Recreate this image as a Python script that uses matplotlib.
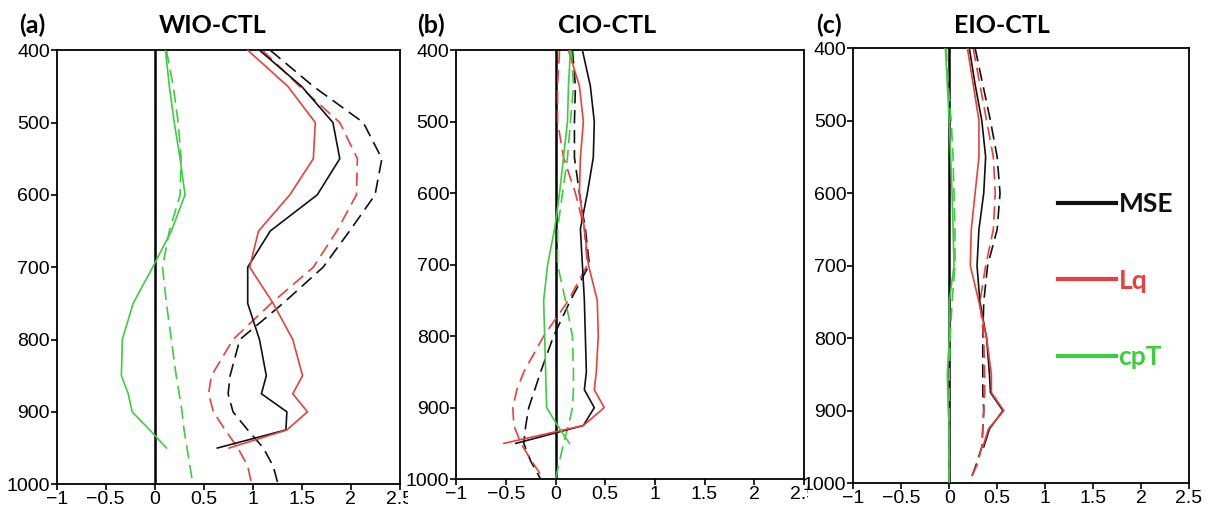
import numpy as np
import matplotlib
matplotlib.use('Agg')
import matplotlib.pyplot as plt
from matplotlib.lines import Line2D
from matplotlib.transforms import Bbox

nan = np.nan
# pressure levels (hPa)
lev = [400, 450, 500, 550, 600, 650, 700, 750, 800, 850, 875, 900, 925, 950, 975, 1000]

# WIO-CTL
mse_a = [1.07, 1.50, 1.82, 1.89, 1.66, 1.18, 0.95, 0.95, 1.07, 1.14, 1.09, 1.35, 1.34, 0.64, nan, nan]
lq_a = [0.95, 1.36, 1.64, 1.62, 1.38, 1.06, 0.97, 1.21, 1.41, 1.51, 1.41, 1.56, 1.35, 0.76, nan, nan]
cpt_a = [0.11, 0.15, 0.20, 0.26, 0.31, 0.17, -0.02, -0.22, -0.33, -0.34, -0.27, -0.23, -0.05, 0.12, nan, nan]
mse_a_d = [1.18, 1.62, 2.13, 2.32, 2.25, 1.99, 1.72, 1.31, 0.87, 0.77, 0.75, 0.80, 0.95, 1.11, 1.21, 1.26]
lq_a_d = [1.10, 1.48, 1.89, 2.07, 2.06, 1.86, 1.62, 1.19, 0.80, 0.58, 0.55, 0.60, 0.72, 0.85, 0.95, 0.99]
cpt_a_d = [0.12, 0.19, 0.24, 0.27, 0.26, 0.15, 0.08, 0.12, 0.17, 0.22, 0.25, 0.28, 0.30, 0.33, 0.36, 0.39]

# CIO-CTL
mse_b = [0.27, 0.35, 0.39, 0.38, 0.32, 0.25, 0.27, 0.29, 0.30, 0.31, 0.29, 0.39, 0.28, -0.40, nan, nan]
lq_b = [0.13, 0.24, 0.28, 0.25, 0.24, 0.29, 0.33, 0.42, 0.43, 0.41, 0.39, 0.49, 0.28, -0.52, nan, nan]
cpt_b = [0.15, 0.13, 0.12, 0.08, 0.04, -0.01, -0.08, -0.12, -0.11, -0.10, -0.095, -0.09, 0.02, 0.14, nan, nan]
mse_b_d = [0.17, 0.20, 0.19, 0.19, 0.24, 0.30, 0.34, 0.15, -0.02, -0.15, -0.21, -0.27, -0.30, -0.32, -0.25, -0.15]
lq_b_d = [0.04, 0.02, 0.02, 0.08, 0.20, 0.29, 0.32, 0.13, -0.12, -0.32, -0.39, -0.43, -0.42, -0.35, -0.24, -0.12]
cpt_b_d = [0.16, 0.18, 0.15, 0.12, 0.07, 0.02, 0.02, 0.10, 0.17, 0.18, 0.18, 0.17, 0.13, 0.08, 0.04, 0.0]

# EIO-CTL
mse_c = [0.21, 0.27, 0.34, 0.38, 0.36, 0.31, 0.29, 0.32, 0.39, 0.42, 0.43, 0.56, 0.42, 0.36, nan, nan]
lq_c = [0.19, 0.25, 0.31, 0.31, 0.27, 0.23, 0.22, 0.31, 0.39, 0.44, 0.44, 0.57, 0.41, 0.35, nan, nan]
cpt_c = [-0.04, -0.02, 0.0, 0.015, 0.03, 0.04, 0.05, 0.0, 0.0, -0.02, -0.015, -0.01, 0.0, 0.0, 0.0, 0.0]
mse_c_d = [0.27, 0.35, 0.43, 0.50, 0.53, 0.50, 0.40, 0.36, 0.35, 0.35, 0.35, 0.36, 0.35, 0.34, 0.28, 0.21]
lq_c_d = [0.25, 0.32, 0.39, 0.46, 0.48, 0.46, 0.38, 0.32, 0.36, 0.37, 0.37, 0.36, 0.35, 0.34, 0.29, 0.20]
cpt_c_d = [-0.03, -0.01, 0.02, 0.04, 0.05, 0.06, 0.06, 0.03, 0.01, 0.0, 0.0, 0.0, 0.0, 0.0, 0.0, 0.0]

panels = [
    ('(a)', 'WIO-CTL', [mse_a, lq_a, cpt_a], [mse_a_d, lq_a_d, cpt_a_d]),
    ('(b)', 'CIO-CTL', [mse_b, lq_b, cpt_b], [mse_b_d, lq_b_d, cpt_b_d]),
    ('(c)', 'EIO-CTL', [mse_c, lq_c, cpt_c], [mse_c_d, lq_c_d, cpt_c_d]),
]
names = ['MSE', 'Lq', 'cpT']
colors = ['#111111', '#e8403e', '#3fcc3f']
xticks = [-1, -0.5, 0, 0.5, 1, 1.5, 2, 2.5]
xticklabels = ['\u22121', '\u22120.5', '0', '0.5', '1', '1.5', '2', '2.5']

plt.rcParams['font.family'] = ['Liberation Sans', 'DejaVu Sans']

fig = plt.figure(figsize=(12.07, 5.07), dpi=100)
boxes = [[0.047, 0.045, 0.284, 0.856],
         [0.378, 0.055, 0.288, 0.846],
         [0.707, 0.047, 0.278, 0.858]]
title_x = [0.176, 0.503, 0.830]
tag_x = [0.016, 0.346, 0.676]
axes = []

for i, (tag, title, solid, dashed) in enumerate(panels):
    ax = fig.add_axes(boxes[i])
    axes.append(ax)
    ax.axvline(0, color='black', lw=1.8, zorder=1)
    for s, d, c in zip(solid, dashed, colors):
        ax.plot(d, lev, color=c, lw=1.2, ls=(0, (8, 4)), zorder=2)
        ax.plot(s, lev, color=c, lw=1.2, zorder=3)
    ax.set_xlim(-1, 2.5)
    ax.set_ylim(1000, 400)
    ax.set_xticks(xticks)
    ax.set_xticklabels(xticklabels)
    ax.set_yticks(range(400, 1001, 100))
    ax.tick_params(labelsize=14, length=4, width=1.2, direction='out', pad=1)
    for sp in ax.spines.values():
        sp.set_linewidth(1.3)
    fig.text(tag_x[i], 0.95, tag, fontsize=18, fontweight='bold', family='Lato', va='center')
    fig.text(title_x[i], 0.95, title, fontsize=18, fontweight='bold', family='Lato', ha='center', va='center')
    if i == 2:
        handles = [Line2D([], [], color=c, lw=3) for c in colors]
        leg = ax.legend(handles, names, loc='upper left', bbox_to_anchor=(0.57, 0.70),
                        frameon=False, borderpad=0, handlelength=2.2, handletextpad=0.1,
                        labelspacing=2.0, prop={'family': 'Lato', 'weight': 'bold', 'size': 19})
        for t, c in zip(leg.get_texts(), colors):
            t.set_color(c)

# the last x label of (a) and (b) runs under the next panel
fig.canvas.draw()
for ax, xcut in zip(axes[:2], [408, 808]):
    lab = ax.get_xticklabels()[-1]
    lab.set_clip_box(Bbox([[0, 0], [xcut, 507]]))
    lab.set_clip_on(True)

fig.savefig('out.png', dpi=100)
